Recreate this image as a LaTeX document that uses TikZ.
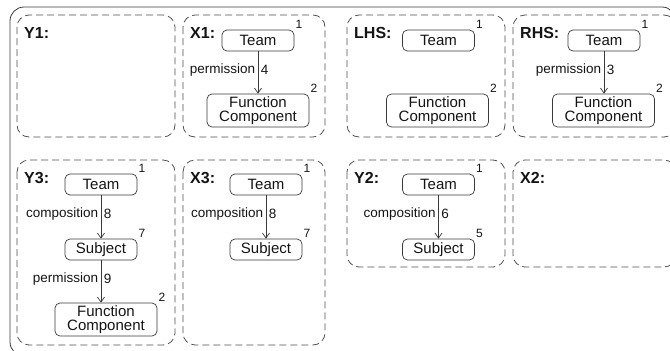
\documentclass[tikz,border=0pt]{standalone}
\usepackage{fontspec}
\setmainfont{Liberation Sans}
\usetikzlibrary{arrows.meta,positioning}
\definecolor{ink}{HTML}{141414}
\definecolor{rim}{HTML}{3A3A3A}
\definecolor{frameGray}{HTML}{505050}

\tikzset{
  ent/.style={draw=rim, line width=.7pt, rounded corners=5pt, text=ink, inner sep=1pt,
              font=\fontsize{15}{15}\selectfont, align=center,
              minimum width=72pt, minimum height=21pt},
  entwide/.style={ent, minimum width=102pt, minimum height=33pt,
              font=\fontsize{15}{14}\selectfont},
  idx/.style={text=ink, inner sep=1pt, font=\fontsize{12}{12}\selectfont},
  rel/.style={draw=rim, line width=.7pt, -{Straight Barb[length=5pt,width=7pt]}},
  rellbl/.style={text=ink, inner sep=2.5pt, pos=.43, font=\fontsize{13.5}{13.5}\selectfont},
  graphbox/.style={draw=frameGray, line width=.8pt, dash pattern=on 7pt off 4pt,
              rounded corners=12pt},
  graphname/.style={anchor=west, text=ink, inner sep=0pt,
              font=\fontsize{16}{16}\selectfont\bfseries}
}

\begin{document}
\begin{tikzpicture}[x=1pt, y={(0pt,-1pt)}]
  \useasboundingbox (0,0) rectangle (670,351);
  \clip (0,0) rectangle (670,351);

  % outer frame
  \draw[rim, line width=.8pt, rounded corners=14pt] (10,7) rectangle (676,356);

  % dashed graph boxes with their names
  \foreach \nm/\xa/\ya/\xb/\yb/\ttl in {
      y1/17/15/175/137/Y1, x1/183/15/325/137/X1,
      lhs/347/15/505/137/LHS, rhs/513/15/676/137/RHS,
      y3/17/160/175/345/Y3, x3/183/160/325/345/X3,
      y2/347/160/505/267/Y2, x2/513/160/676/267/X2} {
    \draw[graphbox] (\xa,\ya) rectangle (\xb,\yb);
    \node[graphname] (\nm) at (\xa+7,\ya+18) {\ttl:};
  }

  % X1
  \node[ent, label={[idx]north east:1}] (x1team) at (258,40.5) {Team};
  \node[entwide, label={[idx]north east:2}] (x1fc) at (258,110.5) {Function\\Component};
  \draw[rel] (x1team.south) -- (x1team.south |- x1fc.north)
    node[rellbl, left] {permission} node[rellbl, right] {4};

  % LHS
  \node[ent, label={[idx]north east:1}] (lteam) at (438.5,40.5) {Team};
  \node[entwide, label={[idx]north east:2}] (lfc) at (437.5,110.5) {Function\\Component};

  % RHS
  \node[ent, label={[idx]north east:1}] (rteam) at (604,40.5) {Team};
  \node[entwide, label={[idx]north east:2}] (rfc) at (603.5,110.5) {Function\\Component};
  \draw[rel] (rteam.south) -- (rteam.south |- rfc.north)
    node[rellbl, left] {permission} node[rellbl, right] {3};

  % Y3
  \node[ent, label={[idx]north east:1}] (y3team) at (101,184.5) {Team};
  \node[ent, label={[idx]north east:7}] (y3subj) at (101,249.5) {Subject};
  \node[entwide, label={[idx]north east:2}] (y3fc) at (106,319.5) {Function\\Component};
  \draw[rel] (y3team.south) -- (y3subj.north)
    node[rellbl, left] {composition} node[rellbl, right] {8};
  \draw[rel] (y3subj.south) -- (y3subj.south |- y3fc.north)
    node[rellbl, left] {permission} node[rellbl, right] {9};

  % X3
  \node[ent, label={[idx]north east:1}] (x3team) at (266,184.5) {Team};
  \node[ent, label={[idx]north east:7}] (x3subj) at (266,249.5) {Subject};
  \draw[rel] (x3team.south) -- (x3subj.north)
    node[rellbl, left] {composition} node[rellbl, right] {8};

  % Y2
  \node[ent, label={[idx]north east:1}] (y2team) at (438.5,184.5) {Team};
  \node[ent, label={[idx]north east:5}] (y2subj) at (438.5,249.5) {Subject};
  \draw[rel] (y2team.south) -- (y2subj.north)
    node[rellbl, left] {composition} node[rellbl, right] {6};
\end{tikzpicture}
\end{document}
